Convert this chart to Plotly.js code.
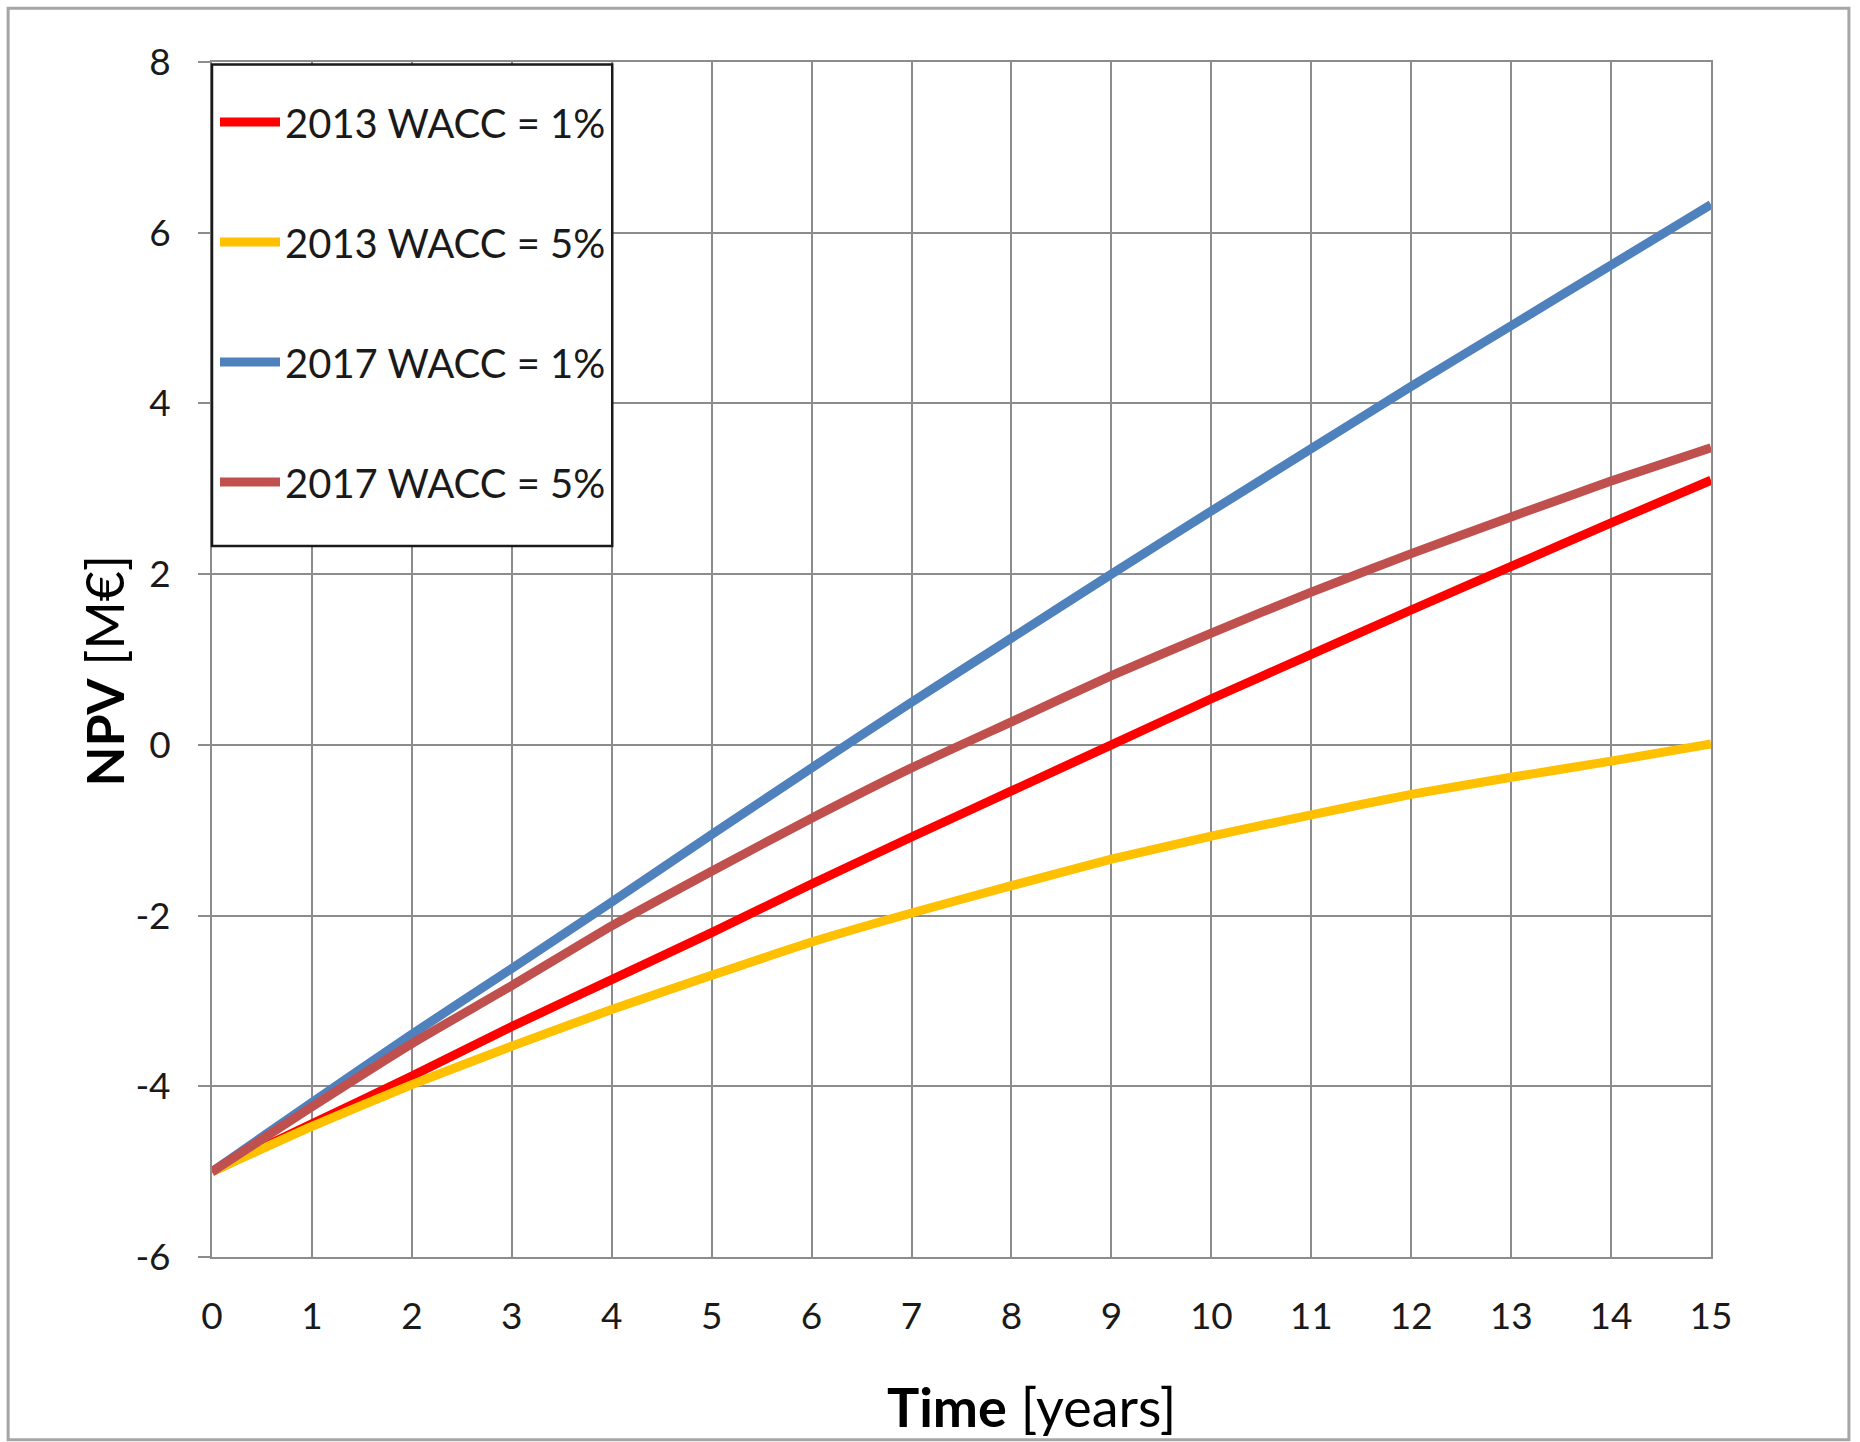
<!DOCTYPE html>
<html>
<head>
<meta charset="utf-8">
<script src="https://cdn.plot.ly/plotly-3.0.1.min.js"></script>
<style>html,body{margin:0;padding:0;background:#fff;}#chart{width:1860px;height:1442px;}</style>
</head>
<body>
<div id="chart"></div>
<script>
// Time axis (years)
const years = [0, 1, 2, 3, 4, 5, 6, 7, 8, 9, 10, 11, 12, 13, 14, 15];

// NPV [M€] per series
const npv2013w1 = [-5.00, -4.44, -3.88, -3.30, -2.75, -2.20, -1.63, -1.08, -0.54, 0.00, 0.54, 1.06, 1.58, 2.09, 2.60, 3.10];
const npv2013w5 = [-5.00, -4.47, -3.98, -3.53, -3.10, -2.70, -2.31, -1.97, -1.65, -1.34, -1.07, -0.82, -0.58, -0.38, -0.19, 0.01];
const npv2017w1 = [-5.00, -4.19, -3.39, -2.62, -1.84, -1.05, -0.27, 0.50, 1.25, 2.00, 2.74, 3.47, 4.20, 4.91, 5.62, 6.33];
const npv2017w5 = [-5.00, -4.24, -3.50, -2.82, -2.12, -1.48, -0.86, -0.27, 0.27, 0.81, 1.31, 1.79, 2.24, 2.67, 3.09, 3.48];

const seriesNames = ["2013 WACC = 1%", "2013 WACC = 5%", "2017 WACC = 1%", "2017 WACC = 5%"];
const seriesValues = [npv2013w1, npv2013w5, npv2017w1, npv2017w5];
const seriesColors = ["#ff0000", "#ffc000", "#4f81bd", "#c0504d"];

const xTickVals = [0, 1, 2, 3, 4, 5, 6, 7, 8, 9, 10, 11, 12, 13, 14, 15];
const xTickText = ["0", "1", "2", "3", "4", "5", "6", "7", "8", "9", "10", "11", "12", "13", "14", "15"];
const yTickVals = [-6, -4, -2, 0, 2, 4, 6, 8];
const yTickText = ["-6", "-4", "-2", "0", "2", "4", "6", "8"];

const xTitle = "<b>Time</b> [years]";
const yTitle = "<b>NPV</b> [M€]";

const FONT = "Lato, 'Open Sans', 'Liberation Sans', sans-serif";
const GRID = "#8c8c8c";

const traces = seriesValues.map((vals, i) => ({
  type: "scatter",
  mode: "lines",
  x: years,
  y: vals,
  name: seriesNames[i],
  legendgroup: "g" + i,
  line: {color: seriesColors[i], width: 9, shape: "spline", smoothing: 0.5},
  hoverinfo: "x+y+name"
}));

const layout = {
  width: 1860,
  height: 1442,
  margin: {l: 212, r: 149, t: 62, b: 185},
  paper_bgcolor: "#ffffff",
  plot_bgcolor: "#ffffff",
  font: {family: FONT, color: "#1a1a1a"},
  showlegend: true,
  legend: {
    x: 0.002, y: 0.977, xanchor: "left", yanchor: "top",
    bgcolor: "rgba(0,0,0,0)", borderwidth: 0,
    traceorder: "grouped", tracegroupgap: 65,
    itemwidth: 60,
    font: {family: FONT, size: 40, color: "#1a1a1a"}
  },
  xaxis: {
    range: [0, 15],
    tickmode: "array", tickvals: xTickVals, ticktext: xTickText,
    showgrid: true, gridcolor: GRID, gridwidth: 2,
    zeroline: false,
    showline: true, linecolor: GRID, linewidth: 2, mirror: true,
    ticks: "", ticklabelstandoff: 26,
    tickfont: {family: FONT, size: 37, color: "#1a1a1a"},
    automargin: false
  },
  yaxis: {
    range: [-6, 8],
    tickmode: "array", tickvals: yTickVals, ticktext: yTickText,
    showgrid: true, gridcolor: GRID, gridwidth: 2,
    zeroline: false,
    showline: true, linecolor: GRID, linewidth: 2, mirror: true,
    ticks: "outside", ticklen: 12, tickwidth: 2, tickcolor: GRID,
    ticklabelstandoff: 20,
    tickfont: {family: FONT, size: 37, color: "#1a1a1a"},
    automargin: false
  },
  annotations: [
    {text: xTitle, xref: "paper", yref: "paper", x: 0.547, y: -0.125, xanchor: "center", yanchor: "middle",
     showarrow: false, font: {family: FONT, size: 54, color: "#000"}},
    {text: yTitle, xref: "paper", yref: "paper", x: -0.072, y: 0.49, xanchor: "center", yanchor: "middle",
     textangle: -90, showarrow: false, font: {family: FONT, size: 52, color: "#000"}}
  ],
  shapes: [
    {type: "rect", xref: "paper", yref: "paper", x0: -0.136, x1: 1.092, y0: -0.153, y1: 1.045,
     line: {color: "#a6a6a6", width: 3}, fillcolor: "rgba(0,0,0,0)", layer: "below"},
    {type: "rect", xref: "paper", yref: "paper", x0: 0, x1: 0.267, y0: 0.595, y1: 0.998,
     line: {color: "#1a1a1a", width: 2.5}, fillcolor: "#ffffff", layer: "above"}
  ]
};

Plotly.newPlot("chart", traces, layout, {displayModeBar: false, staticPlot: true});
</script>
</body>
</html>
